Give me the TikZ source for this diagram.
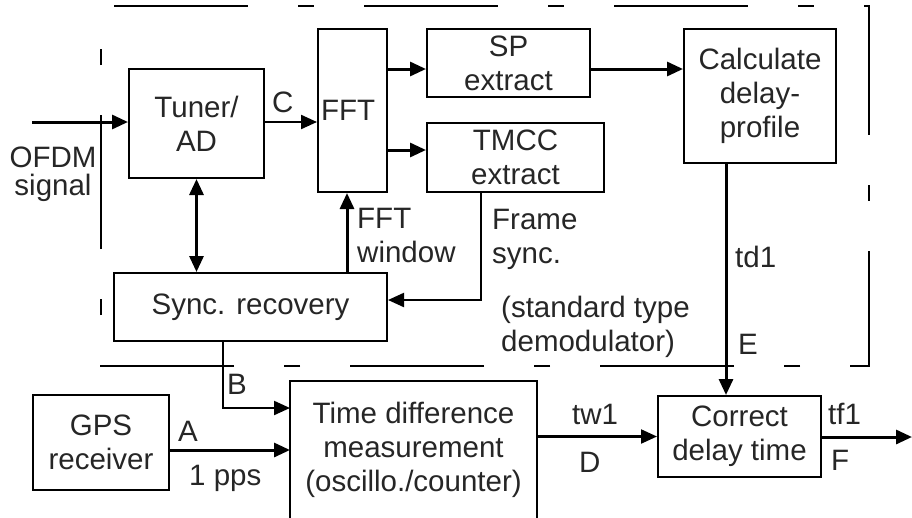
\documentclass[tikz,border=0pt]{standalone}
\usepackage{fontspec}
\setmainfont{Liberation Sans}
\usetikzlibrary{arrows.meta}
\definecolor{ink}{gray}{0.15}
\begin{document}
\begin{tikzpicture}[x=1pt,y=-1pt,
  every node/.style={text=ink, font=\fontsize{29.5}{34}\selectfont},
  blk/.style={draw=black, line width=2pt, align=center, inner sep=0pt, anchor=center},
  lbl/.style={inner sep=0pt, align=left, anchor=base west},
  arrThick/.style={line width=3pt, -{Triangle[length=16pt,width=14pt]}},
  arrThin/.style={line width=2.2pt, -{Triangle[length=16pt,width=14pt]}},
  demodline/.style={line width=1.8pt, line join=miter,
    dash pattern=on 134pt off 50pt on 16pt off 50pt, dash phase=237pt}]
\useasboundingbox (0,0) rectangle (912,517);

% blocks of the receiver
\node[blk, minimum width=135pt, minimum height=109pt] (tuner) at (196.5,123.5) {Tuner/\\AD};
\node[blk, minimum width=69pt, minimum height=163pt, text width=63pt, align=left] (fft) at (352.5,110.5) {FFT};
\node[blk, minimum width=163pt, minimum height=68pt] (sp) at (508.5,63) {SP\\extract};
\node[blk, minimum width=177pt, minimum height=69pt] (tmcc) at (515.5,157.5) {TMCC\\extract};
\node[blk, minimum width=152pt, minimum height=134pt] (calc) at (760,96) {Calculate\\delay-\\profile};
\node[blk, minimum width=273pt, minimum height=68pt] (sync) at (250.5,307) {Sync. recovery};
\node[blk, minimum width=136pt, minimum height=95pt] (gps) at (101,442.5) {GPS\\receiver};
\node[blk, draw=none, minimum width=245pt, minimum height=135pt] (tdbox) at (413.5,449.5)
  {Time difference\\measurement\\(oscillo./counter)};
\draw[line width=2pt, line join=miter] (tdbox.south west) -- (tdbox.north west)
  -- (tdbox.north east) -- (tdbox.south east);
\node[blk, minimum width=163pt, minimum height=81pt] (corr) at (739.5,436.5) {Correct\\delay time};

% outline of the standard type demodulator
\coordinate (dTL) at (101,6);
\coordinate (dTR) at (869,6);
\coordinate (dBR) at (869,366);
\coordinate (dBL) at (101,366);
\draw[demodline] (dTL) -- (dTR) -- (dBR) -- (dBL) -- cycle;

% helper coordinates for connector rows and columns
\coordinate (inStart) at (32,122);
\coordinate (rowSP) at (0,69);
\coordinate (rowTM) at (0,150);
\coordinate (colWin) at (347,0);
\coordinate (colFrame) at (481,0);
\coordinate (rowFrame) at (0,300);
\coordinate (colTd) at (726,0);
\coordinate (colB) at (223,0);
\coordinate (rowB) at (0,408);
\coordinate (rowA) at (0,450);
\coordinate (outEnd) at (912,437);

% connectors
\draw[arrThick] (inStart) -- (tuner.west |- inStart);
\draw[arrThin] (tuner.east |- inStart) -- (fft.west |- inStart);
\draw[arrThick] (fft.east |- rowSP) -- (sp.west |- rowSP);
\draw[arrThick] (fft.east |- rowTM) -- (tmcc.west |- rowTM);
\draw[arrThick] (sp.east |- rowSP) -- (calc.west |- rowSP);
\draw[line width=3pt, {Triangle[length=16pt,width=14pt]}-{Triangle[length=16pt,width=14pt]}]
  (tuner.south) -- (sync.north -| tuner.south);
\draw[arrThick] (sync.north -| colWin) -- (fft.south -| colWin);
\draw[arrThin] (tmcc.south -| colFrame) |- (sync.east |- rowFrame);
\draw[arrThick] (calc.south -| colTd) -- (corr.north -| colTd);
\draw[arrThin] (sync.south -| colB) |- (tdbox.west |- rowB);
\draw[arrThick] (gps.east |- rowA) -- (tdbox.west |- rowA);
\draw[arrThin] (tdbox.east |- corr.west) -- (corr.west);
\draw[arrThick] (corr.east |- outEnd) -- (outEnd);

% signal labels (base anchor of a two-line label sits on its last line)
\node[inner sep=0pt, align=center, font=\fontsize{29.5}{28}\selectfont] (ofdm) at (53,174) {OFDM\\signal};
\node[lbl] (lC) at (272,112) {C};
\node[lbl] (lWin) at (357,262) {FFT\\window};
\node[lbl] (lFrame) at (492,263) {Frame\\sync.};
\node[lbl] (lTd) at (735,267) {td1};
\node[lbl] (lE) at (738,354) {E};
\node[lbl] (lStd) at (501,351) {(standard type\\demodulator)};
\node[lbl] (lB) at (227,394) {B};
\node[lbl] (lA) at (178,441) {A};
\node[lbl] (lPps) at (189,485) {1 pps};
\node[lbl] (lTw) at (572,424) {tw1};
\node[lbl] (lD) at (579,472) {D};
\node[lbl] (lTf) at (828,424) {tf1};
\node[lbl] (lF) at (831,470) {F};
\end{tikzpicture}
\end{document}
